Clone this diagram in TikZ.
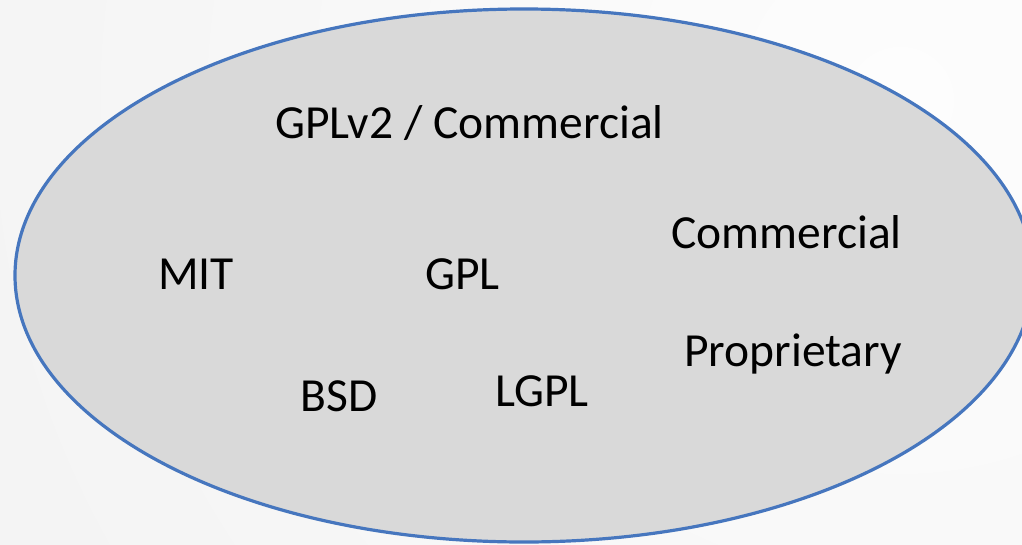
\documentclass[tikz,border=0pt]{standalone}
\usepackage{fontspec}
\setmainfont{Carlito}
\definecolor{ellfill}{HTML}{D9D9D9}
\definecolor{ellline}{HTML}{4676BE}
\definecolor{bgouter}{HTML}{EEEEEE}
\definecolor{bginner}{HTML}{FDFDFD}
\begin{document}
\begin{tikzpicture}[x=1pt,y=1pt,
  lic/.style={anchor=base west,inner sep=0pt,font=\fontsize{47.5}{56}\selectfont,text=black}]
\useasboundingbox (0,0) rectangle (1022,-544);
\begin{scope}
\clip (0,0) rectangle (1022,-544);
\shade[inner color=bginner,outer color=bgouter,shading=radial] (-700,1500) rectangle (2500,-1700);
\draw[fill=ellfill,draw=ellline,line width=3.2pt] (524,-275.5) ellipse [x radius=509,y radius=266.5];
\end{scope}
\node[lic] (gplv2) at (275,-138.3) {GPLv2 / Commercial};
\node[lic] (comm) at (671,-248.3) {Commercial};
\node[lic] (mit) at (158,-289) {MIT};
\node[lic] (gpl) at (425,-289) {GPL};
\node[lic] (prop) at (684,-366.7) {Proprietary};
\node[lic] (bsd) at (300.7,-411.7) {BSD};
\node[lic] (lgpl) at (495,-406.7) {LGPL};
\end{tikzpicture}
\end{document}
